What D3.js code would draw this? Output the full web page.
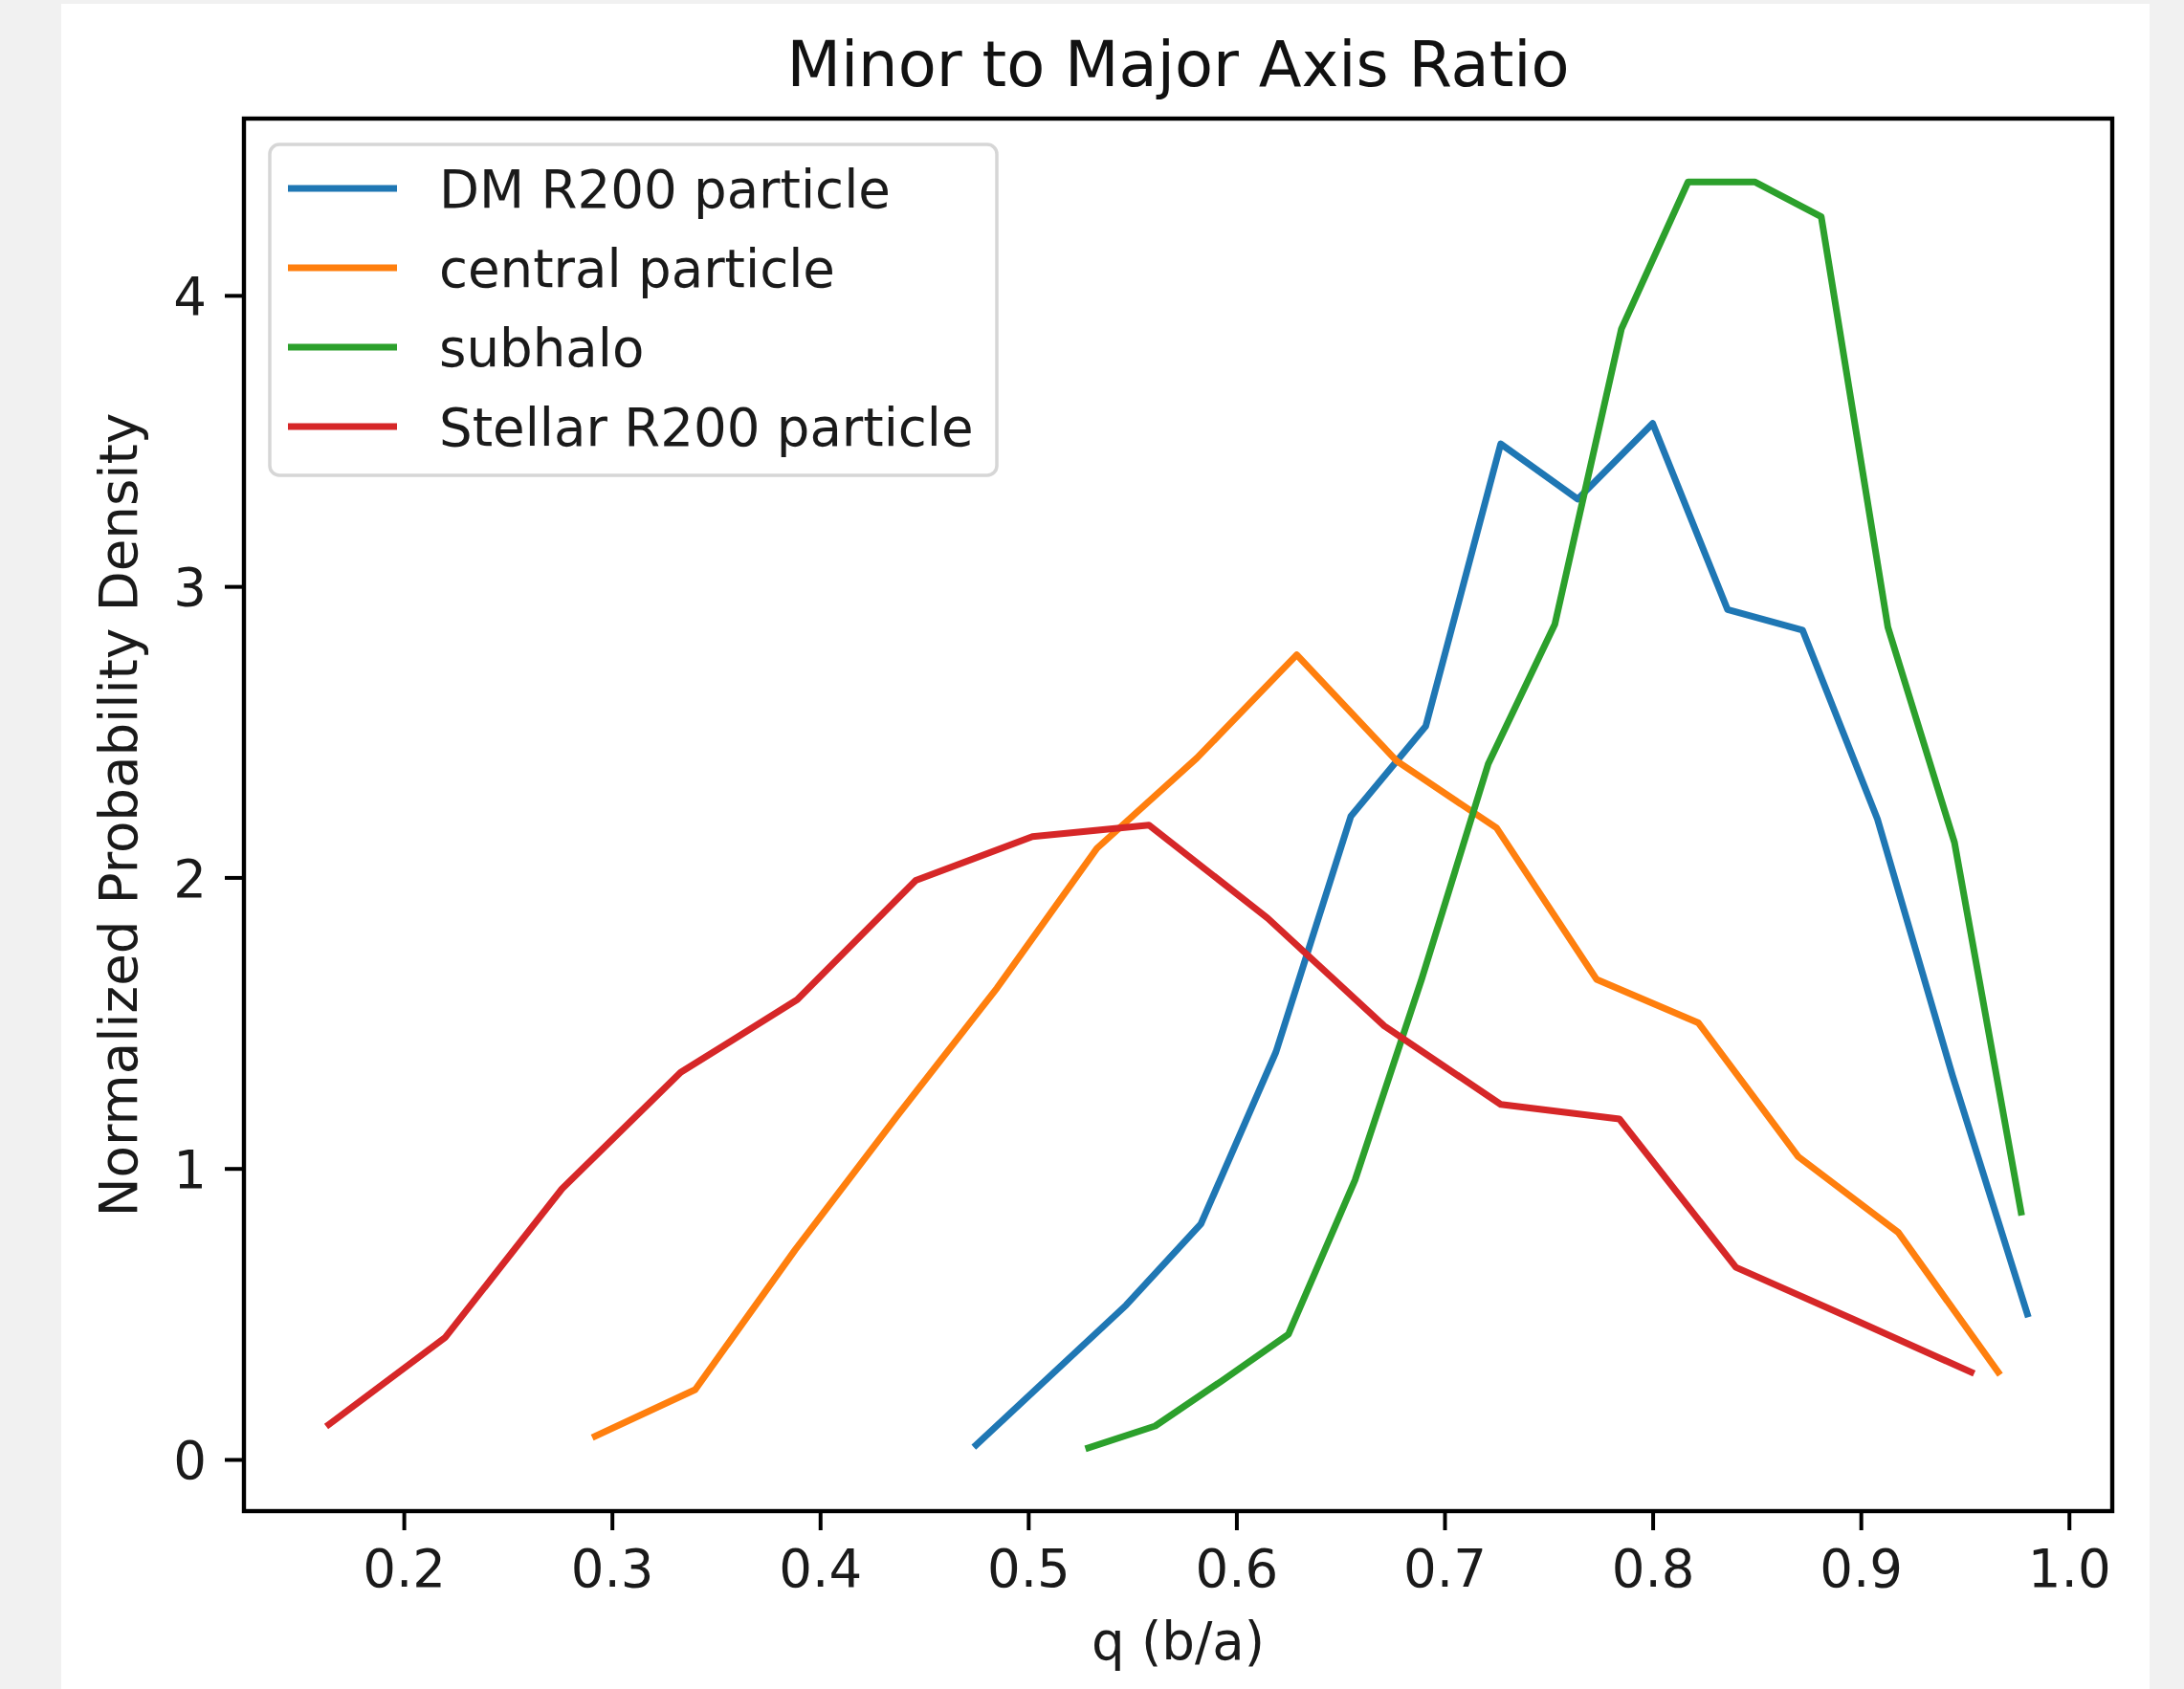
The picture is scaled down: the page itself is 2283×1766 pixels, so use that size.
<!DOCTYPE html>
<html>
<head>
<meta charset="utf-8">
<script src="https://cdnjs.cloudflare.com/ajax/libs/d3/7.8.5/d3.min.js"></script>
<style>
    html, body { margin: 0; padding: 0; background: #f1f1f1; }
    svg { display: block; font-family: "DejaVu Sans", sans-serif; }
</style>
</head>
<body>
<svg id="chart" width="2283" height="1766"></svg>
<script>
// values (bin centres, normalised density)
var qDM = [0.475, 0.511, 0.547, 0.583, 0.619, 0.655, 0.691, 0.727, 0.764, 0.800, 0.836, 0.872, 0.908, 0.944, 0.980];
var densDM = [0.05, 0.29, 0.53, 0.81, 1.40, 2.21, 2.52, 3.49, 3.30, 3.56, 2.92, 2.85, 2.20, 1.32, 0.50];

var qCentral = [0.292, 0.340, 0.388, 0.437, 0.485, 0.533, 0.581, 0.629, 0.677, 0.725, 0.773, 0.822, 0.870, 0.918, 0.966];
var densCentral = [0.08, 0.24, 0.72, 1.18, 1.62, 2.10, 2.41, 2.765, 2.40, 2.17, 1.65, 1.50, 1.04, 0.78, 0.30];

var qSubhalo = [0.529, 0.561, 0.593, 0.625, 0.657, 0.689, 0.721, 0.753, 0.785, 0.817, 0.849, 0.881, 0.913, 0.945, 0.977];
var densSubhalo = [0.04, 0.115, 0.27, 0.43, 0.96, 1.65, 2.39, 2.87, 3.885, 4.39, 4.39, 4.27, 2.86, 2.12, 0.85];

var qStellar = [0.164, 0.220, 0.276, 0.333, 0.389, 0.446, 0.502, 0.558, 0.615, 0.671, 0.727, 0.784, 0.840, 0.897, 0.953];
var densStellar = [0.12, 0.42, 0.93, 1.33, 1.58, 1.99, 2.14, 2.18, 1.86, 1.49, 1.22, 1.17, 0.66, 0.48, 0.30];

var seriesNames = ["DM R200 particle", "central particle", "subhalo", "Stellar R200 particle"];
var seriesColors = ["#1f77b4", "#ff7f0e", "#2ca02c", "#d62728"];
var xTicks = [0.2, 0.3, 0.4, 0.5, 0.6, 0.7, 0.8, 0.9, 1.0];
var yTicks = [0, 1, 2, 3, 4];

var series = [
    { name: seriesNames[0], color: seriesColors[0], q: qDM, d: densDM },
    { name: seriesNames[1], color: seriesColors[1], q: qCentral, d: densCentral },
    { name: seriesNames[2], color: seriesColors[2], q: qSubhalo, d: densSubhalo },
    { name: seriesNames[3], color: seriesColors[3], q: qStellar, d: densStellar }
];

var svg = d3.select('#chart');
var box = { left: 255, right: 2208, top: 124, bottom: 1580 };
var fontSize = 54.6;
var lineW = 7;

// white figure area
svg.append('rect')
    .attr('x', 64).attr('y', 4)
    .attr('width', 2183).attr('height', 1762)
    .attr('fill', '#ffffff');

// autoscale like matplotlib: data extent + 5% margin
function padded(arrs) {
    var all = [].concat.apply([], arrs);
    var lo = d3.min(all), hi = d3.max(all);
    var m = (hi - lo) * 0.05;
    return [lo - m, hi + m];
}

var x = d3.scaleLinear()
    .domain(padded(series.map(function (s) { return s.q; })))
    .range([box.left, box.right]);
var y = d3.scaleLinear()
    .domain(padded(series.map(function (s) { return s.d; })))
    .range([box.bottom, box.top]);

var plot = svg.append('g');

var line = d3.line()
    .x(function (p) { return x(p[0]); })
    .y(function (p) { return y(p[1]); });

series.forEach(function (s) {
    plot.append('path')
        .datum(d3.zip(s.q, s.d))
        .attr('d', line)
        .attr('fill', 'none')
        .attr('stroke', s.color)
        .attr('stroke-width', lineW)
        .attr('stroke-linejoin', 'round')
        .attr('stroke-linecap', 'square');
});

// axes
var xAxis = d3.axisBottom(x)
    .tickValues(xTicks)
    .tickFormat(d3.format('.1f'))
    .tickSizeInner(20).tickSizeOuter(0).tickPadding(19);
var yAxis = d3.axisLeft(y)
    .tickValues(yTicks)
    .tickFormat(d3.format('d'))
    .tickSizeInner(20).tickSizeOuter(0).tickPadding(19);

var gx = svg.append('g')
    .attr('transform', 'translate(0,' + box.bottom + ')')
    .call(xAxis);
var gy = svg.append('g')
    .attr('transform', 'translate(' + box.left + ',0)')
    .call(yAxis);

[gx, gy].forEach(function (g) {
    g.select('.domain').remove();
    g.selectAll('.tick line').attr('stroke', '#000').attr('stroke-width', 4);
    g.selectAll('.tick text')
        .attr('fill', '#1a1a1a')
        .style('font-family', '"DejaVu Sans", sans-serif')
        .style('font-size', fontSize + 'px');
});
gx.selectAll('.tick text').attr('dy', '0.73em');
gy.selectAll('.tick text').attr('dy', '0.36em');

// frame
svg.append('rect')
    .attr('x', box.left).attr('y', box.top)
    .attr('width', box.right - box.left).attr('height', box.bottom - box.top)
    .attr('fill', 'none')
    .attr('stroke', '#000')
    .attr('stroke-width', 4.4)
    .attr('stroke-linejoin', 'miter');

// titles
svg.append('text')
    .attr('x', (box.left + box.right) / 2).attr('y', 90)
    .attr('text-anchor', 'middle')
    .style('font-size', '65.5px')
    .attr('fill', '#111')
    .text('Minor to Major Axis Ratio');

svg.append('text')
    .attr('x', (box.left + box.right) / 2).attr('y', 1735)
    .attr('text-anchor', 'middle')
    .style('font-size', fontSize + 'px')
    .attr('fill', '#1a1a1a')
    .text('q (b/a)');

svg.append('text')
    .attr('transform', 'translate(143,' + ((box.top + box.bottom) / 2) + ') rotate(-90)')
    .attr('text-anchor', 'middle')
    .style('font-size', fontSize + 'px')
    .attr('fill', '#1a1a1a')
    .text('Normalized Probability Density');

// legend
var legend = svg.append('g');
legend.append('rect')
    .attr('x', 282).attr('y', 151)
    .attr('width', 760).attr('height', 346)
    .attr('rx', 10).attr('ry', 10)
    .attr('fill', 'rgba(255,255,255,0.8)')
    .attr('stroke', '#d6d6d6')
    .attr('stroke-width', 3.5);

var rowY = d3.scalePoint().domain(seriesNames).range([197, 446]);

series.forEach(function (s) {
    var ry = rowY(s.name);
    legend.append('line')
        .attr('x1', 301).attr('x2', 415)
        .attr('y1', ry).attr('y2', ry)
        .attr('stroke', s.color)
        .attr('stroke-width', lineW);
    legend.append('text')
        .attr('x', 459).attr('y', ry)
        .attr('dy', '0.36em')
        .style('font-size', fontSize + 'px')
        .attr('fill', '#1a1a1a')
        .text(s.name);
});
</script>
</body>
</html>
